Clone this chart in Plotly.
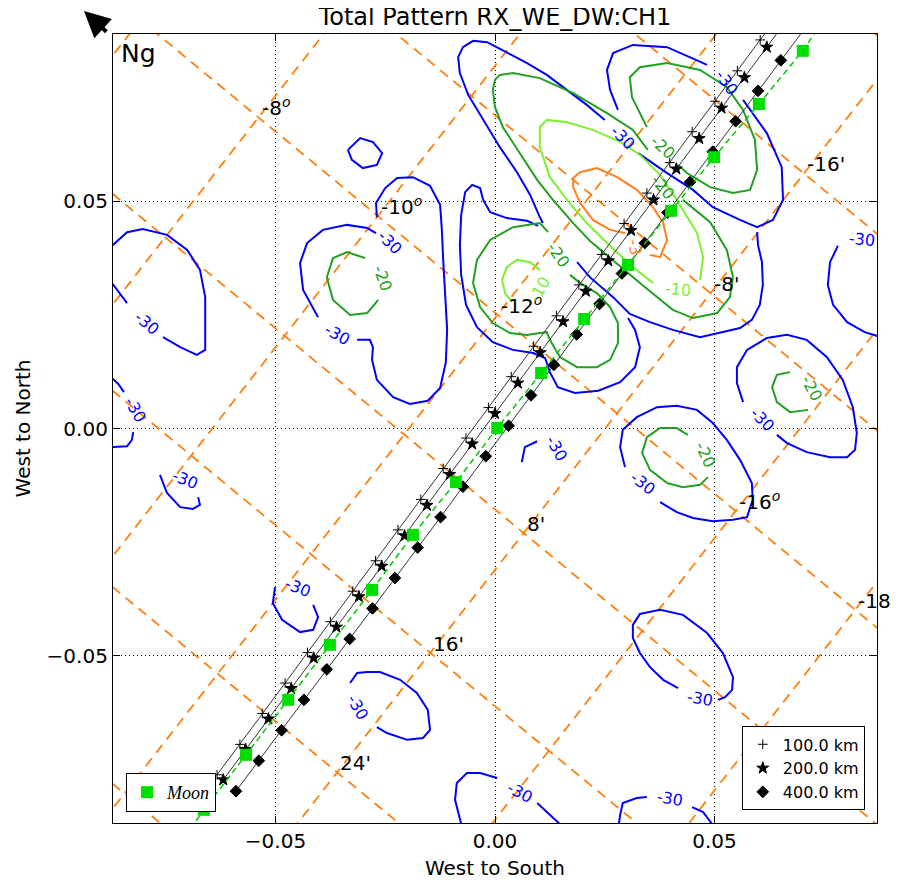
import plotly.graph_objects as go

# ---------------- axes ----------------
X_RANGE = [-0.0870, 0.0870]
Y_RANGE = [-0.0868, 0.0868]
TICK_VALUES = [-0.05, 0.0, 0.05]

# ---------------- orange reference grid (y = slope*x + intercept) ----------------
elev_deg = [-6, -8, -10, -12, -14, -16, -18, -20]
elev_intercept = [0.1900, 0.1352, 0.0798, 0.0243, -0.0311, -0.0861, -0.1416, -0.1968]
elev_slope = 1.2396
elev_labelled = [-8, -10, -12, -16, -18]

azim_arcmin = [-24, -16, -8, 0, 8, 16, 24, 32]
azim_intercept = [0.1558, 0.1122, 0.0689, 0.0255, -0.0178, -0.0611, -0.1043, -0.1476]
azim_slope = -0.7971
azim_labelled = [-16, -8, 8, 16, 24]

# ---------------- Moon track ----------------
moon_x = [-0.0663, -0.0567, -0.0471, -0.0376, -0.0280, -0.0187, -0.0089, 0.0005,
          0.0105, 0.0203, 0.0303, 0.0401, 0.0499, 0.0601, 0.0701]
moon_y = [-0.0839, -0.0718, -0.0597, -0.0476, -0.0355, -0.0234, -0.0118, 0.0001,
          0.0122, 0.0241, 0.0360, 0.0479, 0.0597, 0.0714, 0.0831]
moon_path_start = (-0.0694, -0.0881)
moon_path_end = (0.0740, 0.0888)

# ---------------- satellite tracks (last value = continuation beyond frame) ----------------
km100_x = [-0.0633, -0.0581, -0.0530, -0.0478, -0.0427, -0.0375, -0.0324, -0.0272, -0.0221,
           -0.0169, -0.0118, -0.0066, -0.0015, 0.0037, 0.0088, 0.0140, 0.0191, 0.0243,
           0.0294, 0.0346, 0.0398, 0.0449, 0.0501, 0.0552, 0.0604, 0.0655]
km100_y = [-0.0762, -0.0695, -0.0627, -0.0560, -0.0493, -0.0425, -0.0358, -0.0291, -0.0223,
           -0.0156, -0.0088, -0.0021, 0.0046, 0.0114, 0.0181, 0.0248, 0.0316, 0.0383,
           0.0451, 0.0518, 0.0585, 0.0653, 0.0720, 0.0787, 0.0855, 0.0922]
km200_x = [-0.0619, -0.0568, -0.0516, -0.0464, -0.0413, -0.0361, -0.0310, -0.0258, -0.0206,
           -0.0155, -0.0103, -0.0052, 0.0000, 0.0052, 0.0103, 0.0155, 0.0207, 0.0258,
           0.0310, 0.0361, 0.0413, 0.0465, 0.0516, 0.0568, 0.0619, 0.0671]
km200_y = [-0.0773, -0.0706, -0.0639, -0.0572, -0.0505, -0.0437, -0.0370, -0.0303, -0.0236,
           -0.0169, -0.0101, -0.0034, 0.0033, 0.0100, 0.0167, 0.0235, 0.0302, 0.0369,
           0.0436, 0.0503, 0.0571, 0.0638, 0.0705, 0.0772, 0.0839, 0.0907]
km400_x = [-0.0590, -0.0538, -0.0486, -0.0435, -0.0383, -0.0331, -0.0279, -0.0228, -0.0176,
           -0.0124, -0.0073, -0.0021, 0.0031, 0.0082, 0.0134, 0.0186, 0.0238, 0.0289,
           0.0341, 0.0393, 0.0444, 0.0496, 0.0548, 0.0599, 0.0651, 0.0755]
km400_y = [-0.0798, -0.0731, -0.0664, -0.0597, -0.0530, -0.0463, -0.0396, -0.0329, -0.0262,
           -0.0195, -0.0128, -0.0061, 0.0006, 0.0073, 0.0140, 0.0207, 0.0274, 0.0341,
           0.0408, 0.0475, 0.0542, 0.0609, 0.0676, 0.0743, 0.0810, 0.0944]
N_MARKED = 25

# ---------------- contour lines (dB), traced segments ----------------
# level -30
c30_central_upper = [(0.0109, 0.0452), (0.0102, 0.0465), (0.0080, 0.0514), (0.0050, 0.0564), (0.0011, 0.0619),
                     (-0.0027, 0.0679), (-0.0061, 0.0734), (-0.0080, 0.0782), (-0.0084, 0.0817), (-0.0073, 0.0839),
                     (-0.0050, 0.0853), (-0.0018, 0.0850), (0.0027, 0.0828), (0.0073, 0.0804), (0.0118, 0.0778),
                     (0.0164, 0.0745), (0.0209, 0.0712), (0.0250, 0.0679)]
c30_upper_right_a = [(0.0326, 0.0606), (0.0392, 0.0562), (0.0451, 0.0525), (0.0496, 0.0487), (0.0558, 0.0459),
                     (0.0597, 0.0443), (0.0633, 0.0459), (0.0656, 0.0503), (0.0653, 0.0575), (0.0619, 0.0650),
                     (0.0565, 0.0723)]
c30_upper_right_b = [(0.0483, 0.0800), (0.0392, 0.0839), (0.0314, 0.0844), (0.0269, 0.0826), (0.0255, 0.0789),
                     (0.0262, 0.0745), (0.0280, 0.0701)]
c30_central_lower = [(0.0187, 0.0366), (0.0216, 0.0333), (0.0269, 0.0289), (0.0307, 0.0252), (0.0353, 0.0234),
                     (0.0405, 0.0217), (0.0467, 0.0201), (0.0506, 0.0210), (0.0558, 0.0221), (0.0585, 0.0239),
                     (0.0603, 0.0272), (0.0610, 0.0316), (0.0608, 0.0366), (0.0599, 0.0404), (0.0597, 0.0432)]
c30_mid_lobe = [(0.0098, 0.0446), (0.0073, 0.0457), (0.0027, 0.0463), (-0.0011, 0.0476), (-0.0027, 0.0503),
                (-0.0034, 0.0529), (-0.0052, 0.0536), (-0.0068, 0.0520), (-0.0077, 0.0470), (-0.0080, 0.0404),
                (-0.0077, 0.0338), (-0.0066, 0.0272), (-0.0041, 0.0223), (-0.0005, 0.0190), (0.0041, 0.0173),
                (0.0087, 0.0166), (0.0114, 0.0155), (0.0125, 0.0124), (0.0143, 0.0091), (0.0182, 0.0078),
                (0.0235, 0.0083), (0.0285, 0.0102), (0.0319, 0.0135), (0.0330, 0.0179), (0.0319, 0.0217),
                (0.0303, 0.0243)]
c30_small_ring = [(-0.0335, 0.0613), (-0.0307, 0.0639), (-0.0278, 0.0630), (-0.0257, 0.0606), (-0.0269, 0.0580),
                  (-0.0301, 0.0573), (-0.0326, 0.0591), (-0.0335, 0.0613)]
c30_left_head_a = [(-0.0314, 0.0195), (-0.0285, 0.0195), (-0.0278, 0.0179), (-0.0280, 0.0151), (-0.0269, 0.0107),
                   (-0.0232, 0.0069), (-0.0194, 0.0054), (-0.0153, 0.0061), (-0.0125, 0.0089), (-0.0112, 0.0146),
                   (-0.0109, 0.0217), (-0.0114, 0.0294), (-0.0118, 0.0371), (-0.0121, 0.0437), (-0.0125, 0.0492),
                   (-0.0148, 0.0534), (-0.0187, 0.0553), (-0.0223, 0.0551), (-0.0250, 0.0529), (-0.0271, 0.0496),
                   (-0.0269, 0.0465)]
c30_left_head_b = [(-0.0403, 0.0245), (-0.0437, 0.0305), (-0.0444, 0.0364), (-0.0428, 0.0408), (-0.0392, 0.0437),
                   (-0.0337, 0.0448), (-0.0291, 0.0441), (-0.0271, 0.0430)]
c30_edge_upper_a = [(-0.0880, 0.0330), (-0.0854, 0.0298), (-0.0838, 0.0276)]
c30_edge_upper_b = [(-0.0756, 0.0201), (-0.0717, 0.0179), (-0.0679, 0.0162), (-0.0660, 0.0173), (-0.0660, 0.0223),
                    (-0.0660, 0.0289), (-0.0672, 0.0349), (-0.0701, 0.0393), (-0.0747, 0.0426), (-0.0802, 0.0439),
                    (-0.0838, 0.0432), (-0.0865, 0.0408), (-0.0880, 0.0395)]
c30_edge_lower_a = [(-0.0880, 0.0118), (-0.0858, 0.0098), (-0.0845, 0.0080)]
c30_edge_lower_b = [(-0.0824, -0.0008), (-0.0827, -0.0025), (-0.0838, -0.0039), (-0.0880, -0.0041)]
c30_arc_left = [(-0.0763, -0.0102), (-0.0747, -0.0142), (-0.0717, -0.0173), (-0.0688, -0.0177), (-0.0672, -0.0168),
                (-0.0676, -0.0151)]
c30_arc_lowleft = [(-0.0501, -0.0349), (-0.0506, -0.0384), (-0.0485, -0.0421), (-0.0444, -0.0448), (-0.0414, -0.0443),
                   (-0.0403, -0.0415), (-0.0414, -0.0388)]
c30_arc_center = [(0.0061, -0.0074), (0.0068, -0.0041), (0.0096, -0.0028)]
c30_bottom_ring = [(-0.0330, -0.0560), (-0.0314, -0.0538), (-0.0291, -0.0536), (-0.0262, -0.0536), (-0.0216, -0.0553),
                   (-0.0178, -0.0582), (-0.0153, -0.0619), (-0.0148, -0.0663), (-0.0164, -0.0681), (-0.0200, -0.0685),
                   (-0.0246, -0.0670), (-0.0269, -0.0657)]
c30_bottom_a = [(-0.0073, -0.0885), (-0.0091, -0.0817), (-0.0087, -0.0780), (-0.0064, -0.0758), (-0.0034, -0.0758),
                (0.0005, -0.0769)]
c30_bottom_b = [(0.0096, -0.0824), (0.0164, -0.0885)]
c30_bottom_right_a = [(0.0280, -0.0885), (0.0285, -0.0850), (0.0291, -0.0824), (0.0323, -0.0813), (0.0346, -0.0811)]
c30_bottom_right_b = [(0.0449, -0.0833), (0.0474, -0.0844), (0.0506, -0.0885)]
c30_right_mid = [(0.0376, -0.0162), (0.0414, -0.0184), (0.0451, -0.0197), (0.0496, -0.0204), (0.0542, -0.0201),
                 (0.0574, -0.0195), (0.0587, -0.0157), (0.0585, -0.0120), (0.0558, -0.0069), (0.0528, -0.0025),
                 (0.0496, 0.0012), (0.0460, 0.0041), (0.0414, 0.0050), (0.0369, 0.0047), (0.0323, 0.0025),
                 (0.0291, -0.0003), (0.0285, -0.0041), (0.0296, -0.0085)]
c30_right_low = [(0.0508, -0.0597), (0.0524, -0.0591), (0.0540, -0.0575), (0.0542, -0.0547), (0.0519, -0.0494),
                 (0.0483, -0.0450), (0.0428, -0.0410), (0.0376, -0.0399), (0.0330, -0.0408), (0.0314, -0.0432),
                 (0.0314, -0.0461), (0.0330, -0.0494), (0.0353, -0.0525), (0.0383, -0.0553), (0.0417, -0.0571)]
c30_right_lobe = [(0.0642, -0.0014), (0.0665, -0.0032), (0.0710, -0.0052), (0.0763, -0.0063), (0.0802, -0.0063),
                  (0.0820, -0.0047), (0.0824, -0.0010), (0.0815, 0.0047), (0.0792, 0.0107), (0.0756, 0.0157),
                  (0.0710, 0.0195), (0.0665, 0.0206), (0.0619, 0.0199), (0.0574, 0.0173), (0.0551, 0.0135),
                  (0.0551, 0.0100), (0.0565, 0.0058)]
c30_far_right = [(0.0781, 0.0402), (0.0763, 0.0366), (0.0758, 0.0316), (0.0770, 0.0272), (0.0802, 0.0234),
                 (0.0842, 0.0212), (0.0880, 0.0201)]

# level -20
c20_central = [(0.0428, 0.0503), (0.0490, 0.0454), (0.0528, 0.0393), (0.0542, 0.0333), (0.0535, 0.0289),
               (0.0506, 0.0254), (0.0451, 0.0243), (0.0405, 0.0261), (0.0330, 0.0320), (0.0255, 0.0380),
               (0.0216, 0.0413), (0.0178, 0.0452), (0.0132, 0.0503), (0.0096, 0.0547), (0.0057, 0.0606),
               (0.0018, 0.0663), (0.0000, 0.0707), (-0.0005, 0.0745), (0.0000, 0.0767), (0.0011, 0.0778),
               (0.0041, 0.0782), (0.0102, 0.0771), (0.0178, 0.0738), (0.0255, 0.0694), (0.0314, 0.0657),
               (0.0348, 0.0613)]
c20_upper_right = [(0.0417, 0.0580), (0.0437, 0.0562), (0.0490, 0.0531), (0.0542, 0.0518), (0.0581, 0.0525),
                   (0.0597, 0.0569), (0.0592, 0.0635), (0.0565, 0.0701), (0.0528, 0.0751), (0.0467, 0.0789),
                   (0.0392, 0.0804), (0.0330, 0.0795), (0.0307, 0.0773), (0.0312, 0.0729), (0.0346, 0.0663)]
c20_mid_lobe = [(0.0171, 0.0338), (0.0194, 0.0320), (0.0232, 0.0298), (0.0262, 0.0267), (0.0280, 0.0232),
                (0.0280, 0.0188), (0.0262, 0.0151), (0.0232, 0.0135), (0.0187, 0.0135), (0.0148, 0.0157),
                (0.0125, 0.0195), (0.0118, 0.0212), (0.0102, 0.0210), (0.0073, 0.0206), (0.0034, 0.0210),
                (-0.0005, 0.0232), (-0.0034, 0.0267), (-0.0050, 0.0320), (-0.0041, 0.0371), (-0.0011, 0.0415),
                (0.0041, 0.0443), (0.0102, 0.0452), (0.0121, 0.0432)]
c20_left_head = [(-0.0296, 0.0375), (-0.0337, 0.0388), (-0.0369, 0.0375), (-0.0383, 0.0333), (-0.0369, 0.0283),
                 (-0.0330, 0.0250), (-0.0291, 0.0254), (-0.0266, 0.0283)]
c20_right_mid = [(0.0485, -0.0107), (0.0467, -0.0124), (0.0428, -0.0129), (0.0392, -0.0120), (0.0353, -0.0091),
                 (0.0335, -0.0054), (0.0346, -0.0019), (0.0376, 0.0001), (0.0414, 0.0001), (0.0439, -0.0014)]
c20_right_lobe = [(0.0713, 0.0041), (0.0672, 0.0036), (0.0642, 0.0058), (0.0631, 0.0091), (0.0642, 0.0118),
                  (0.0672, 0.0124)]

# level -10
c10_central = [(0.0467, 0.0327), (0.0474, 0.0377), (0.0460, 0.0430), (0.0421, 0.0492), (0.0376, 0.0558),
               (0.0330, 0.0602), (0.0291, 0.0628), (0.0223, 0.0657), (0.0164, 0.0674), (0.0118, 0.0679),
               (0.0102, 0.0663), (0.0102, 0.0619), (0.0125, 0.0553), (0.0164, 0.0503), (0.0209, 0.0452),
               (0.0255, 0.0408), (0.0314, 0.0355), (0.0360, 0.0320)]
c10_mid_lobe = [(0.0039, 0.0278), (0.0023, 0.0298), (0.0016, 0.0327), (0.0027, 0.0355), (0.0050, 0.0371),
                (0.0080, 0.0366), (0.0102, 0.0349)]

# level -3
c3_central = [(0.0296, 0.0430), (0.0262, 0.0437), (0.0223, 0.0459), (0.0194, 0.0496), (0.0178, 0.0531),
              (0.0178, 0.0551), (0.0194, 0.0564), (0.0232, 0.0573), (0.0278, 0.0553), (0.0323, 0.0525),
              (0.0360, 0.0487), (0.0383, 0.0452), (0.0392, 0.0415), (0.0376, 0.0377), (0.0353, 0.0382)]

# contour labels: (text, x, y, angle)
labels_m30 = [("-30", 0.0291, 0.0641, 45), ("-30", 0.0528, 0.0762, 55), ("-30", -0.0360, 0.0206, 30),
              ("-30", -0.0239, 0.0410, 45), ("-30", -0.0792, 0.0232, 40), ("-30", -0.0820, 0.0041, 60),
              ("-30", -0.0706, -0.0113, 22), ("-30", -0.0449, -0.0349, 22), ("-30", 0.0141, -0.0043, 60),
              ("-30", -0.0312, -0.0613, 60), ("-30", 0.0057, -0.0800, 28), ("-30", 0.0398, -0.0813, 10),
              ("-30", 0.0337, -0.0120, 38), ("-30", 0.0467, -0.0593, 10), ("-30", 0.0608, 0.0019, 45),
              ("-30", 0.0836, 0.0415, 5)]
labels_m20 = [("-20", 0.0383, 0.0619, 42), ("-20", 0.0383, 0.0531, 50), ("-20", 0.0143, 0.0382, 55),
              ("-20", -0.0255, 0.0331, 70), ("-20", 0.0478, -0.0058, 65), ("-20", 0.0722, 0.0089, 62)]
labels_m10 = [("-10", 0.0417, 0.0305, 5), ("-10", 0.0102, 0.0305, -60)]
labels_m3 = [("-3", 0.0319, 0.0399, 80)]

BLUE = "#0000ff"
GREEN = "#22a022"
LIGHT = "#7cf032"
ORANGE = "#ff7f1e"
GRID_ORANGE = "#ff7f0e"

fig = go.Figure()


def add_lines(segments, color, width=1.8, dash="solid"):
    xs, ys = [], []
    for seg in segments:
        for px, py in seg:
            xs.append(px)
            ys.append(py)
        xs.append(None)
        ys.append(None)
    fig.add_trace(go.Scatter(x=xs, y=ys, mode="lines", showlegend=False, hoverinfo="skip",
                             line=dict(color=color, width=width, dash=dash)))


# orange grid lines
x_ends = [-0.12, 0.12]
elev_segments = [[(xe, elev_slope * xe + b) for xe in x_ends] for b in elev_intercept]
azim_segments = [[(xe, azim_slope * xe + b) for xe in x_ends] for b in azim_intercept]
add_lines(elev_segments, GRID_ORANGE, 1.8, "10px,7px")
add_lines(azim_segments, GRID_ORANGE, 1.8, "10px,7px")

# contours
add_lines([c30_central_upper, c30_upper_right_a, c30_upper_right_b, c30_central_lower, c30_mid_lobe,
           c30_small_ring, c30_left_head_a, c30_left_head_b, c30_edge_upper_a, c30_edge_upper_b,
           c30_edge_lower_a, c30_edge_lower_b, c30_arc_left, c30_arc_lowleft, c30_arc_center,
           c30_bottom_ring, c30_bottom_a, c30_bottom_b, c30_bottom_right_a, c30_bottom_right_b,
           c30_right_mid, c30_right_low, c30_right_lobe, c30_far_right], BLUE, 2)
add_lines([c20_central, c20_upper_right, c20_mid_lobe, c20_left_head, c20_right_mid, c20_right_lobe], GREEN, 2)
add_lines([c10_central, c10_mid_lobe], LIGHT, 2)
add_lines([c3_central], ORANGE, 2)

# tracks
track_specs = [(km100_x, km100_y, "cross-thin", 7, "100.0 km"),
               (km200_x, km200_y, "star", 9, "200.0 km"),
               (km400_x, km400_y, "diamond", 9, "400.0 km")]
for tx, ty, sym, size, name in track_specs:
    fig.add_trace(go.Scatter(x=tx, y=ty, mode="lines", showlegend=False, hoverinfo="skip",
                             line=dict(color="#333333", width=1)))
for tx, ty, sym, size, name in track_specs:
    fig.add_trace(go.Scatter(x=tx[:N_MARKED], y=ty[:N_MARKED], mode="markers", name=name,
                             legend="legend2",
                             marker=dict(symbol=sym, size=size, color="black",
                                         line=dict(color="black", width=1))))

# moon
fig.add_trace(go.Scatter(x=[moon_path_start[0]] + moon_x + [moon_path_end[0]],
                         y=[moon_path_start[1]] + moon_y + [moon_path_end[1]],
                         mode="lines", showlegend=False, hoverinfo="skip",
                         line=dict(color="#00cc00", width=1.5, dash="6px,4px")))
fig.add_trace(go.Scatter(x=moon_x, y=moon_y, mode="markers", name="<i>Moon</i>", legend="legend",
                         marker=dict(symbol="square", size=12, color="#00e000")))

annotations = []
# grid labels at intersections
b0 = azim_intercept[azim_arcmin.index(0)]
for d in elev_labelled:
    b = elev_intercept[elev_deg.index(d)]
    xi = (b0 - b) / (elev_slope - azim_slope)
    yi = elev_slope * xi + b
    annotations.append(dict(x=xi, y=yi, text=f"{d}<sup><i>o</i></sup>", showarrow=False,
                            xanchor="left", yanchor="bottom", xshift=1, yshift=-5,
                            font=dict(size=20, color="black")))
b14 = elev_intercept[elev_deg.index(-14)]
for m in azim_labelled:
    b = azim_intercept[azim_arcmin.index(m)]
    xi = (b - b14) / (elev_slope - azim_slope)
    yi = elev_slope * xi + b14
    annotations.append(dict(x=xi, y=yi, text=f"{m}'", showarrow=False,
                            xanchor="left", yanchor="bottom", xshift=1, yshift=-5,
                            font=dict(size=20, color="black")))

for group, color in [(labels_m30, BLUE), (labels_m20, GREEN), (labels_m10, LIGHT), (labels_m3, ORANGE)]:
    for text, lx, ly, ang in group:
        annotations.append(dict(x=lx, y=ly, text=text, showarrow=False, textangle=ang,
                                xanchor="center", yanchor="middle",
                                font=dict(size=16, color=color)))

# Ng and north arrow
annotations.append(dict(x=0.008, y=0.9965, xref="paper", yref="paper", text="Ng", showarrow=False,
                        xanchor="left", yanchor="top", font=dict(size=25, color="black")))
annotations.append(dict(x=-0.038, y=1.029, xref="paper", yref="paper", text="", showarrow=True,
                        ax=24, ay=22, arrowhead=2, arrowsize=1.3, arrowwidth=4, arrowcolor="black"))

axis_common = dict(showline=True, linecolor="black", linewidth=1.2, mirror="allticks",
                   ticks="inside", ticklen=7, tickwidth=1, tickcolor="black",
                   showgrid=True, gridcolor="black", gridwidth=1, griddash="1px,3px",
                   zeroline=False, tickvals=TICK_VALUES, tickformat=".2f",
                   tickfont=dict(size=20, color="black"))

# the page adds an 8px body margin, so the figure is sized/margined to compensate
fig.update_layout(
    width=891, height=878,
    margin=dict(l=105, r=22, t=26, b=63),
    plot_bgcolor="white", paper_bgcolor="white",
    font=dict(family="DejaVu Sans", size=20, color="black"),
    title=dict(text="Total Pattern RX_WE_DW:CH1", x=0.5, xref="paper", xanchor="center",
               y=1.0, yref="container", yanchor="top", pad=dict(t=0, b=0),
               font=dict(size=24)),
    xaxis=dict(range=X_RANGE, title=dict(text="West to South", standoff=8, font=dict(size=20)), **axis_common),
    yaxis=dict(range=Y_RANGE, title=dict(text="West to North", standoff=10, font=dict(size=20)), **axis_common),
    annotations=annotations,
    legend=dict(x=0.017, y=0.014, xanchor="left", yanchor="bottom", bgcolor="white",
                bordercolor="black", borderwidth=1, itemwidth=30,
                font=dict(family="Liberation Serif", size=18, color="black")),
    legend2=dict(x=0.984, y=0.016, xanchor="right", yanchor="bottom", bgcolor="white",
                 bordercolor="black", borderwidth=1, itemwidth=30, tracegroupgap=0,
                 font=dict(size=16, color="black")),
)

fig.write_html("out.html")
